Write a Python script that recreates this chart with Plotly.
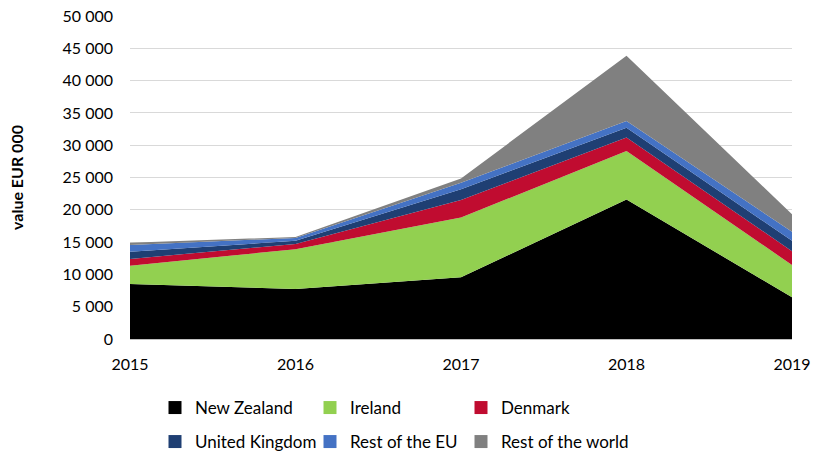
import plotly.graph_objects as go

years = [2015, 2016, 2017, 2018, 2019]
series_names = ["New Zealand", "Ireland", "Denmark", "United Kingdom", "Rest of the EU", "Rest of the world"]
new_zealand = [8500, 7740, 9550, 21600, 6450]
ireland = [2850, 6160, 9250, 7500, 5000]
denmark = [1050, 800, 2700, 2100, 2150]
united_kingdom = [1100, 500, 1700, 1500, 1600]
rest_eu = [1050, 450, 1000, 1050, 1400]
rest_world = [350, 150, 650, 10100, 2700]
colors = ["#000000", "#92D050", "#C00C30", "#1F3F73", "#4472C4", "#808080"]
y_ticks = list(range(0, 50001, 5000))

values = [new_zealand, ireland, denmark, united_kingdom, rest_eu, rest_world]
font = "Lato, Carlito, 'Liberation Sans', sans-serif"

W, H = 816, 459
L, R, T, B = 130, 24, 16, 120
plot_w = W - L - R

fig = go.Figure()
for i, (name, vals, col) in enumerate(zip(series_names, values, colors)):
    fig.add_trace(go.Scatter(
        x=years, y=vals, name=name, mode="lines", stackgroup="one",
        line=dict(width=0, color=col), fillcolor=col, showlegend=False,
        hoverinfo="skip",
    ))

# one legend per entry, laid out as 2 rows x 3 columns
text_x = [195, 350, 501]
row_y = [408, 442]
legend_layout = {}
for i, (name, col) in enumerate(zip(series_names, colors)):
    key = "legend" if i == 0 else f"legend{i + 1}"
    fig.add_trace(go.Scatter(
        x=[None], y=[None], name=name, mode="markers",
        marker=dict(symbol="square", size=13, color=col),
        legend=key, showlegend=True,
    ))
    col_i, row_i = i % 3, i // 3
    legend_layout[key] = dict(
        orientation="h", xref="paper", x=(text_x[col_i] - 40 - L) / plot_w, xanchor="left",
        yref="container", y=1 - row_y[row_i] / H, yanchor="middle",
        font=dict(size=17), bgcolor="rgba(0,0,0,0)",
    )

fig.update_layout(
    width=W, height=H,
    margin=dict(l=L, r=R, t=T, b=B, autoexpand=False),
    paper_bgcolor="white", plot_bgcolor="white",
    separators=". ",
    font=dict(family=font, size=16, color="#000000"),
    xaxis=dict(range=[2015, 2019], tickvals=years, ticktext=[str(y) for y in years],
               showgrid=False, showline=True, linecolor="#BFBFBF", ticks="", zeroline=False,
               tickfont=dict(size=16), ticklabelstandoff=11, automargin=False,
               ticklabeloverflow="allow"),
    yaxis=dict(range=[0, 50000], tickvals=y_ticks, tickformat=",d", showgrid=True,
               gridcolor="#D9D9D9", zeroline=False, showline=False, ticks="",
               tickfont=dict(size=16), ticklabelstandoff=16, automargin=False,
               ticklabeloverflow="allow",
               title=dict(text="<b>value EUR 000</b>", font=dict(size=16), standoff=34)),
    showlegend=True,
    **legend_layout,
)

fig.write_html("out.html", config={"displayModeBar": False},
               post_script="document.body.style.margin='0';document.body.style.overflow='hidden';")
